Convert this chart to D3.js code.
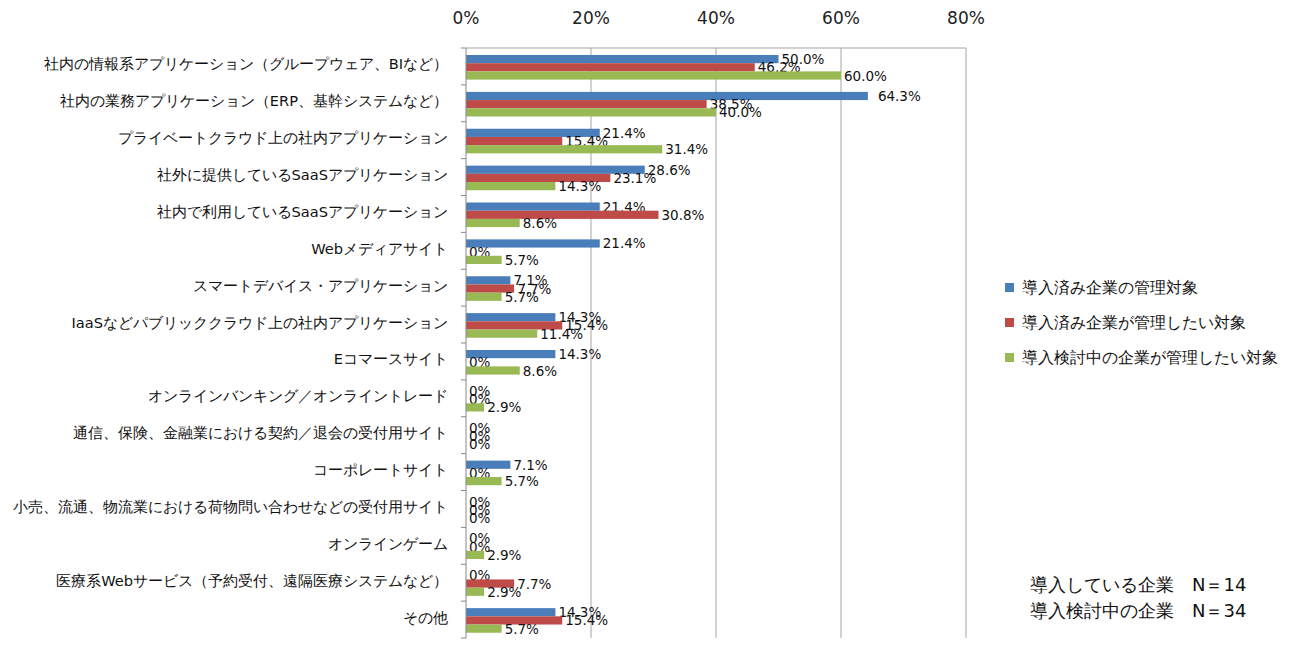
<!DOCTYPE html>
<html><head><meta charset="utf-8">
<script src="https://cdn.jsdelivr.net/npm/d3@7"></script>
<style>body{margin:0;background:#fff}text{font-family:"DejaVu Sans",Verdana,sans-serif}</style>
</head><body><svg id="c" width="1300" height="648"></svg>
<script>
var categories = ["社内の情報系アプリケーション（グループウェア、BIなど）","社内の業務アプリケーション（ERP、基幹システムなど）","プライベートクラウド上の社内アプリケーション","社外に提供しているSaaSアプリケーション","社内で利用しているSaaSアプリケーション","Webメディアサイト","スマートデバイス・アプリケーション","IaaSなどパブリッククラウド上の社内アプリケーション","Eコマースサイト","オンラインバンキング／オンライントレード","通信、保険、金融業における契約／退会の受付用サイト","コーポレートサイト","小売、流通、物流業における荷物問い合わせなどの受付用サイト","オンラインゲーム","医療系Webサービス（予約受付、遠隔医療システムなど）","その他"];
var seriesNames = ["導入済み企業の管理対象","導入済み企業が管理したい対象","導入検討中の企業が管理したい対象"];
var adopted = [50.0,64.3,21.4,28.6,21.4,21.4,7.1,14.3,14.3,0,0,7.1,0,0,0,14.3];
var adoptedWant = [46.2,38.5,15.4,23.1,30.8,0,7.7,15.4,0,0,0,0,0,0,7.7,15.4];
var considering = [60.0,40.0,31.4,14.3,8.6,5.7,5.7,11.4,8.6,2.9,0,5.7,0,2.9,2.9,5.7];
var xTicks = [0,20,40,60,80];
var colors = ["#4a7ebb","#be4b48","#98b954"];
var series = [adopted, adoptedWant, considering];

var svg = d3.select("#c");
var x = d3.scaleLinear().domain([0,80]).range([466,966]);
var y = d3.scaleBand().domain(categories).range([48,638]);
var bh = 8.2;

// gridlines
svg.append("g").selectAll("line").data(xTicks.slice(1)).enter().append("line")
  .attr("x1", d => x(d)).attr("x2", d => x(d)).attr("y1", 48).attr("y2", 638)
  .attr("stroke", "#a6a6a6");
svg.append("line").attr("x1", 466).attr("x2", 966).attr("y1", 48).attr("y2", 48).attr("stroke", "#a6a6a6");

// top axis labels
svg.append("g").selectAll("text").data(xTicks).enter().append("text")
  .attr("x", d => x(d)).attr("y", 24).attr("text-anchor", "middle")
  .attr("font-size", 17).attr("fill", "#222").text(d => d + "%");

// bars
series.forEach(function(vals, s) {
  var off = 7 + s * bh;
  svg.append("g").selectAll("rect").data(vals).enter().append("rect")
    .attr("x", x(0)).attr("y", (d, i) => y(categories[i]) + off)
    .attr("width", d => x(d) - x(0)).attr("height", bh)
    .attr("fill", colors[s]);
  svg.append("g").selectAll("text").data(vals).enter().append("text")
    .attr("x", d => x(d) + (d > 62 ? 10 : 3))
    .attr("y", (d, i) => y(categories[i]) + off + bh / 2 + 1)
    .attr("dominant-baseline", "middle")
    .attr("font-size", 13.5).attr("fill", "#111")
    .text(d => d === 0 ? "0%" : d.toFixed(1) + "%");
});

// y axis
svg.append("line").attr("x1", 466).attr("x2", 466).attr("y1", 48).attr("y2", 638).attr("stroke", "#888");
svg.append("g").selectAll("line").data(d3.range(categories.length + 1)).enter().append("line")
  .attr("x1", 461).attr("x2", 466)
  .attr("y1", i => 48 + i * y.step()).attr("y2", i => 48 + i * y.step()).attr("stroke", "#888");
svg.append("g").selectAll("text").data(categories).enter().append("text")
  .attr("x", 448).attr("y", d => y(d) + y.bandwidth() / 2 - 1)
  .attr("text-anchor", "end").attr("dominant-baseline", "middle")
  .attr("font-size", 14.6).attr("fill", "#111").text(d => d);

// legend
var lg = svg.append("g").selectAll("g").data(seriesNames).enter().append("g")
  .attr("transform", (d, i) => `translate(1005,${287 + i * 35})`);
lg.append("rect").attr("x", 0).attr("y", -4).attr("width", 9).attr("height", 9).attr("fill", (d, i) => colors[i]);
lg.append("text").attr("x", 17).attr("y", 1).attr("dominant-baseline", "middle")
  .attr("font-size", 15.5).attr("fill", "#111").text(d => d);

// note
svg.append("text").attr("x", 1030).attr("y", 591).attr("font-size", 18).attr("fill", "#111").text("導入している企業　N＝14");
svg.append("text").attr("x", 1030).attr("y", 617).attr("font-size", 18).attr("fill", "#111").text("導入検討中の企業　N＝34");
</script></body></html>
